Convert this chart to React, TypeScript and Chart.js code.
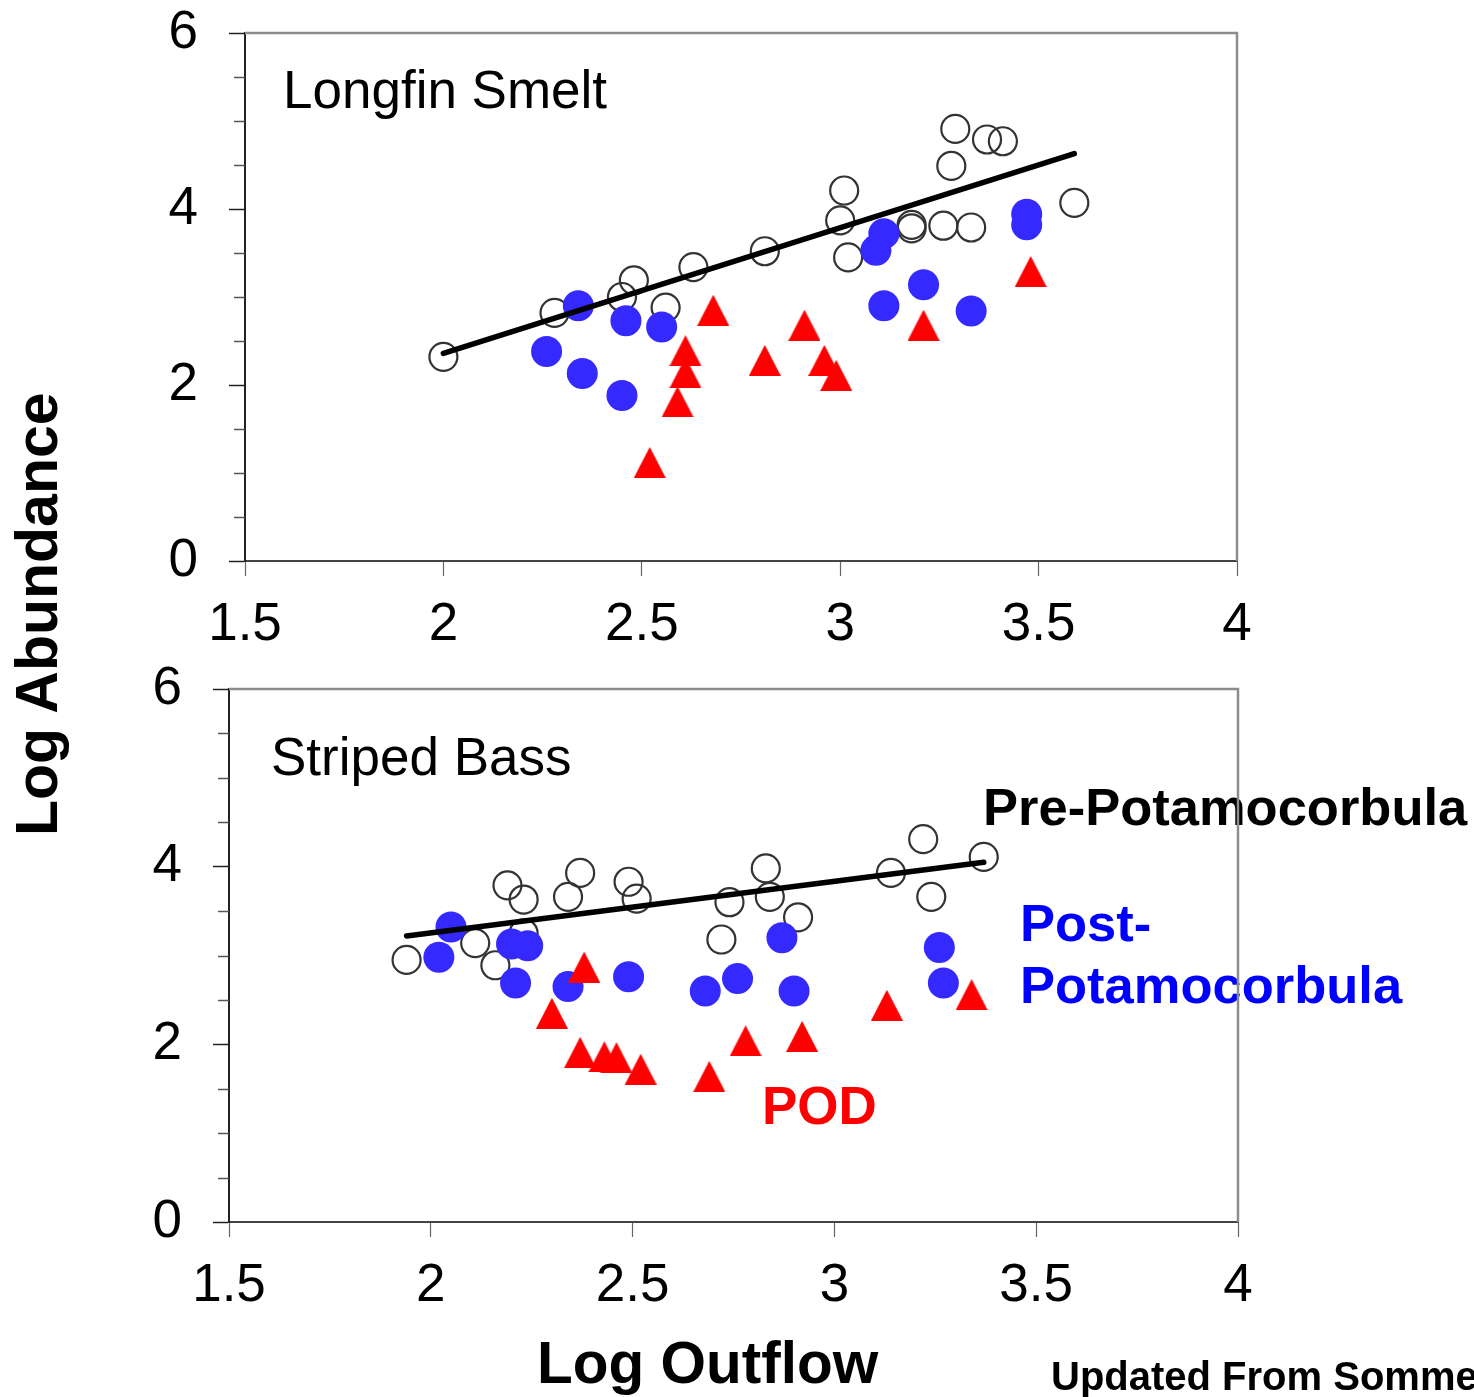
import React, { useEffect, useRef } from "react";
import { Chart, registerables } from "chart.js";

Chart.register(...registerables);

const FONT = "'Liberation Sans', Arial, Helvetica, sans-serif";

// Axis ticks
const xTickValues = [1.5, 2, 2.5, 3, 3.5, 4];
const yTickValues = [0, 2, 4, 6];
const yMinorTickValues = [0.5, 1, 1.5, 2.5, 3, 3.5, 4.5, 5, 5.5];

// ---- Longfin Smelt (Log Outflow, Log Abundance) ----
const smeltPre: [number, number][] = [
  [2.0, 2.32], [2.28, 2.82], [2.45, 3.0], [2.48, 3.19], [2.56, 2.88], [2.63, 3.34],
  [2.81, 3.52], [3.01, 4.21], [3.0, 3.87], [3.02, 3.45], [3.18, 3.82], [3.18, 3.78],
  [3.26, 3.81], [3.33, 3.79], [3.29, 4.91], [3.37, 4.79], [3.41, 4.77], [3.28, 4.49],
  [3.59, 4.07],
];
const smeltPost: [number, number][] = [
  [2.34, 2.9], [2.46, 2.73], [2.55, 2.66], [2.26, 2.38], [2.35, 2.13], [2.45, 1.88],
  [3.11, 3.72], [3.09, 3.53], [3.47, 3.94], [3.47, 3.82], [3.21, 3.14], [3.11, 2.9],
  [3.33, 2.84],
];
const smeltPod: [number, number][] = [
  [2.52, 1.12], [2.61, 2.39], [2.61, 2.14], [2.59, 1.81], [2.68, 2.85], [2.91, 2.68],
  [2.81, 2.28], [2.96, 2.28], [2.99, 2.11], [3.21, 2.68], [3.48, 3.29],
];
const smeltFit: [number, number][] = [[2.0, 2.36], [3.59, 4.63]];

// ---- Striped Bass ----
const bassPre: [number, number][] = [
  [1.94, 2.95], [2.19, 3.79], [2.23, 3.63], [2.11, 3.14], [2.16, 2.89], [2.23, 3.25],
  [2.37, 3.93], [2.34, 3.66], [2.49, 3.83], [2.51, 3.64], [2.83, 3.98], [2.74, 3.6],
  [2.84, 3.66], [2.91, 3.43], [2.72, 3.18], [3.14, 3.93], [3.22, 4.31], [3.24, 3.66],
  [3.37, 4.11],
];
const bassPost: [number, number][] = [
  [2.05, 3.32], [2.02, 2.98], [2.2, 3.13], [2.24, 3.11], [2.21, 2.69], [2.34, 2.65],
  [2.49, 2.76], [2.68, 2.6], [2.87, 3.2], [2.76, 2.74], [2.9, 2.6], [3.26, 3.09],
  [3.27, 2.69],
];
const bassPod: [number, number][] = [
  [2.38, 2.87], [2.3, 2.35], [2.37, 1.91], [2.43, 1.86], [2.46, 1.85], [2.52, 1.72],
  [2.78, 2.04], [2.92, 2.09], [2.69, 1.64], [3.13, 2.44], [3.34, 2.56],
];
const bassFit: [number, number][] = [[1.94, 3.22], [3.37, 4.05]];

type TextItem = { text: string; x: number; y: number; font: string; color: string };
type Panel = {
  pre: [number, number][];
  post: [number, number][];
  pod: [number, number][];
  fit: [number, number][];
  top: number;
  height: number;
  padTop: number;
  padRight: number;
  yAxisWidth: number;
  xAxisHeight: number;
  texts: TextItem[];
};

const smeltPanel: Panel = {
  pre: smeltPre,
  post: smeltPost,
  pod: smeltPod,
  fit: smeltFit,
  top: 0,
  height: 660,
  padTop: 33,
  padRight: 237,
  yAxisWidth: 245,
  xAxisHeight: 99,
  texts: [{ text: "Longfin Smelt", x: 283, y: 108, font: `53px ${FONT}`, color: "#000" }],
};

const bassPanel: Panel = {
  pre: bassPre,
  post: bassPost,
  pod: bassPod,
  fit: bassFit,
  top: 660,
  height: 737,
  padTop: 29,
  padRight: 236,
  yAxisWidth: 229,
  xAxisHeight: 175,
  texts: [
    { text: "Striped Bass", x: 271, y: 115, font: `53px ${FONT}`, color: "#000" },
    { text: "Pre-Potamocorbula", x: 983, y: 165, font: `bold 52.5px ${FONT}`, color: "#000" },
    { text: "Post-", x: 1020, y: 281, font: `bold 52.5px ${FONT}`, color: "#0000ff" },
    { text: "Potamocorbula", x: 1020, y: 343, font: `bold 52.5px ${FONT}`, color: "#0000ff" },
    { text: "POD", x: 762, y: 464, font: `bold 53px ${FONT}`, color: "#ff0000" },
    { text: "Log Outflow", x: 537, y: 723, font: `bold 58.5px ${FONT}`, color: "#000" },
    { text: "Updated From Sommer et al. 2007", x: 1051, y: 730, font: `bold 40px ${FONT}`, color: "#000" },
  ],
};

function makeTriangle(): HTMLCanvasElement {
  const c = document.createElement("canvas");
  c.width = 32;
  c.height = 31;
  const g = c.getContext("2d")!;
  g.fillStyle = "#ff0000";
  g.beginPath();
  g.moveTo(16, 0);
  g.lineTo(32, 31);
  g.lineTo(0, 31);
  g.closePath();
  g.fill();
  return c;
}

const toPts = (a: [number, number][]) => a.map(([x, y]) => ({ x, y }));

function PanelChart({ panel }: { panel: Panel }) {
  const ref = useRef<HTMLCanvasElement>(null);
  useEffect(() => {
    const canvas = ref.current!;
    const tri = makeTriangle();
    const decor = {
      id: "decor",
      beforeDraw(chart: any) {
        const ctx = chart.ctx;
        ctx.save();
        ctx.textAlign = "left";
        ctx.textBaseline = "alphabetic";
        for (const t of panel.texts) {
          ctx.font = t.font;
          ctx.fillStyle = t.color;
          ctx.fillText(t.text, t.x, t.y);
        }
        ctx.restore();
      },
      beforeDatasetsDraw(chart: any) {
        const { ctx, chartArea: a, scales } = chart;
        ctx.save();
        ctx.strokeStyle = "#8c8c8c";
        ctx.lineWidth = 2.5;
        ctx.beginPath();
        ctx.moveTo(a.left, a.top);
        ctx.lineTo(a.right, a.top);
        ctx.lineTo(a.right, a.bottom);
        ctx.stroke();
        ctx.strokeStyle = "#555";
        ctx.lineWidth = 1.5;
        for (const v of yMinorTickValues) {
          const py = Math.round(scales.y.getPixelForValue(v)) + 0.5;
          ctx.beginPath();
          ctx.moveTo(a.left - 11, py);
          ctx.lineTo(a.left, py);
          ctx.stroke();
        }
        ctx.restore();
      },
    };
    const chart = new Chart(canvas, {
      type: "scatter",
      data: {
        datasets: [
          {
            label: "fit",
            data: toPts(panel.fit),
            showLine: true,
            borderColor: "#000",
            borderWidth: 5.5,
            borderCapStyle: "round",
            pointRadius: 0,
            order: 0,
          } as any,
          {
            label: "POD",
            data: toPts(panel.pod),
            pointStyle: tri,
            pointRadius: 16,
            order: 1,
          },
          {
            label: "Post-Potamocorbula",
            data: toPts(panel.post),
            pointStyle: "circle",
            pointRadius: 15.5,
            backgroundColor: "#3429ff",
            borderWidth: 0,
            order: 2,
          },
          {
            label: "Pre-Potamocorbula",
            data: toPts(panel.pre),
            pointStyle: "circle",
            pointRadius: 14,
            backgroundColor: "rgba(255,255,255,0)",
            borderColor: "#333",
            borderWidth: 2.2,
            order: 3,
          },
        ],
      },
      options: {
        responsive: false,
        animation: false,
        devicePixelRatio: 1,
        events: [],
        layout: { padding: { top: panel.padTop, left: 0, right: panel.padRight, bottom: 0 } },
        plugins: { legend: { display: false }, tooltip: { enabled: false } },
        scales: {
          x: {
            type: "linear",
            min: 1.5,
            max: 4,
            afterBuildTicks: (s: any) => {
              s.ticks = xTickValues.map((v) => ({ value: v }));
            },
            afterFit: (s: any) => {
              s.height = panel.xAxisHeight;
              s.paddingLeft = 0;
              s.paddingRight = 0;
            },
            grid: { drawOnChartArea: false, drawTicks: true, tickLength: 15, tickColor: "#666", tickWidth: 1.2 },
            border: { display: true, color: "#444", width: 2 },
            ticks: {
              font: { family: FONT, size: 53 },
              color: "#000",
              padding: 18,
              maxRotation: 0,
              autoSkip: false,
              callback: (v: any) => String(v),
            },
          },
          y: {
            type: "linear",
            min: 0,
            max: 6,
            afterBuildTicks: (s: any) => {
              s.ticks = yTickValues.map((v) => ({ value: v }));
            },
            afterFit: (s: any) => {
              s.width = panel.yAxisWidth;
              s.paddingTop = 0;
              s.paddingBottom = 0;
            },
            grid: { drawOnChartArea: false, drawTicks: true, tickLength: 16, tickColor: "#222", tickWidth: 1.5 },
            border: { display: true, color: "#222", width: 2 },
            ticks: {
              font: { family: FONT, size: 53 },
              color: "#000",
              padding: 31,
              autoSkip: false,
              callback: (v: any) => String(v),
            },
          },
        },
      },
      plugins: [decor],
    } as any);
    return () => chart.destroy();
  }, [panel]);
  return (
    <canvas
      ref={ref}
      width={1474}
      height={panel.height}
      style={{ position: "absolute", left: 0, top: panel.top, width: 1474, height: panel.height }}
    />
  );
}

export default function App() {
  return (
    <div
      style={{
        position: "absolute",
        left: 0,
        top: 0,
        width: 1474,
        height: 1397,
        overflow: "hidden",
        background: "#fff",
      }}
    >
      <PanelChart panel={smeltPanel} />
      <PanelChart panel={bassPanel} />
      <div
        style={{
          position: "absolute",
          left: 8,
          top: 836,
          transformOrigin: "0 0",
          transform: "rotate(-90deg)",
          font: `bold 59px ${FONT}`,
          lineHeight: "59px",
          whiteSpace: "nowrap",
          color: "#000",
        }}
      >
        Log Abundance
      </div>
    </div>
  );
}
